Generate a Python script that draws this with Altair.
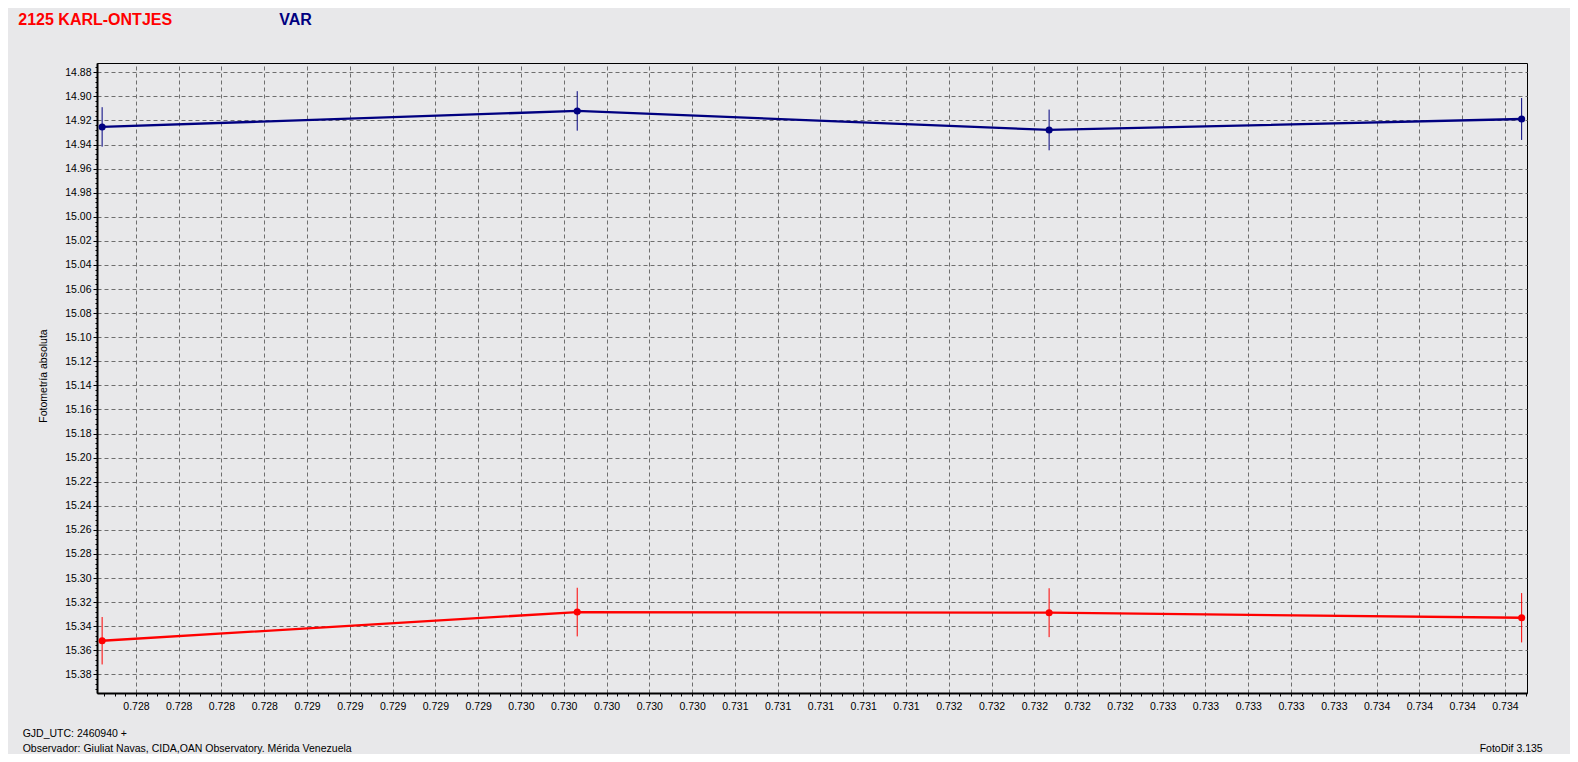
import altair as alt
import pandas as pd

# ---------------- data ----------------
jd_frac = [0.727542, 0.729763, 0.731969, 0.734178]          # GJD_UTC - 2460940
var_mag = [14.9254, 14.9121, 14.9279, 14.9188]
var_err = [0.0164, 0.0164, 0.0169, 0.0174]
obj_mag = [15.3521, 15.3283, 15.3288, 15.3330]
obj_err = [0.0197, 0.0202, 0.0203, 0.0205]

series_names = ["VAR", "2125 KARL-ONTJES"]
series_colors = ["#000080", "#FF0000"]

title_obj = "2125 KARL-ONTJES"
title_var = "VAR"
y_title = "Fotometría absoluta"
footer_jd = "GJD_UTC: 2460940 +"
footer_obs = "Observador: Giuliat Navas, CIDA,OAN Observatory. Mérida Venezuela"
footer_sw = "FotoDif 3.135"

x_domain = [0.727518, 0.734203]
y_domain = [14.8723, 15.3955]

# axis tick positions (major every 0.0002 / 0.02, minor subdivisions)
x_ticks = [round(0.72755 + 0.00005 * k, 6) for k in range(134)]
y_ticks = [round(14.876 + 0.004 * k, 4) for k in range(130)]

rows = []
for name, mags, errs in [(series_names[0], var_mag, var_err), (series_names[1], obj_mag, obj_err)]:
    for x, m, e in zip(jd_frac, mags, errs):
        rows.append({"series": name, "jd": x, "mag": m, "lo": m - e, "hi": m + e})
df = pd.DataFrame(rows)

x_major_test = "abs((datum.value - 0.7277) / 0.0002 - round((datum.value - 0.7277) / 0.0002)) < 0.05"
y_major_test = "abs((datum.value - 14.88) / 0.02 - round((datum.value - 14.88) / 0.02)) < 0.05"

FONT = "Liberation Sans"

x_axis = alt.Axis(
    values=x_ticks,
    tickCount=1000,
    title=None,
    labelExpr=f"({x_major_test}) ? format(datum.value + 1e-7, '.3f') : ''",
    labelOverlap=False,
    labelFlush=False,
    labelBound=False,
    labelFont=FONT, labelFontSize=10.5, labelColor="black", labelPadding=5,
    tickSize=3,
    tickColor="black", tickWidth=1,
    domainColor="black", domainWidth=2,
    grid=True, gridColor="#6E6E6E", gridDash=[4, 3], gridWidth=1,
    gridOpacity={"condition": {"test": x_major_test, "value": 1}, "value": 0},
)
y_axis = alt.Axis(
    values=y_ticks,
    tickCount=1000,
    title=None,
    labelExpr=f"({y_major_test}) ? format(datum.value, '.2f') : ''",
    labelOverlap=False,
    labelFlush=False,
    labelFont=FONT, labelFontSize=10.5, labelColor="black", labelPadding=2,
    tickSize={"condition": {"test": y_major_test, "value": 4}, "value": 2},
    tickColor="black", tickWidth=1,
    domainColor="black", domainWidth=2,
    grid=True, gridColor="#6E6E6E", gridDash=[4, 3], gridWidth=1,
    gridOpacity={"condition": {"test": y_major_test, "value": 1}, "value": 0},
)

X = alt.X("jd:Q", scale=alt.Scale(domain=x_domain, nice=False, zero=False), axis=x_axis)
Y = alt.Y("mag:Q", scale=alt.Scale(domain=y_domain, nice=False, zero=False, reverse=True), axis=y_axis)
color = alt.Color("series:N", scale=alt.Scale(domain=series_names, range=series_colors), legend=None)

base = alt.Chart(df)
lines = base.mark_line(strokeWidth=2.3, clip=True).encode(x=X, y=Y, color=color, detail="series:N")
bars = base.mark_rule(strokeWidth=1).encode(x="jd:Q", y="lo:Q", y2="hi:Q", color=color)
pts = base.mark_point(filled=True, shape="circle", size=50, opacity=1).encode(x="jd:Q", y="mag:Q", color=color)


def label(txt, x, y, size, color, weight="normal", align="left", angle=0, baseline="alphabetic"):
    return alt.Chart(pd.DataFrame({"t": [txt]})).mark_text(
        font=FONT, fontSize=size, fontWeight=weight, color=color, align=align,
        baseline=baseline, angle=angle,
    ).encode(text="t:N", x=alt.value(x), y=alt.value(y))


texts = [
    label(title_obj, -78.7, -38, 16, "#FF0000", weight="bold"),
    label(title_var, 182.3, -38, 16, "#000080", weight="bold"),
    label(y_title, -52.7, 313, 10.5, "black", align="center", angle=270, baseline="middle"),
    label(footer_jd, -74.3, 674, 10.5, "black"),
    label(footer_obs, -74.3, 688.5, 10.5, "black"),
    label(footer_sw, 1445.7, 688.5, 10.5, "black", align="right"),
]

chart = alt.layer(lines, bars, pts, *texts).properties(
    width=1430,
    height=630,
    autosize=alt.AutoSizeParams(type="none"),
    padding={"left": 89, "top": 55, "right": 43, "bottom": 61},
    background="#E8E8EA",
).configure_view(stroke="black", strokeWidth=1, fill="#E8E8EA")

chart.save("out.html", embed_options={"renderer": "svg", "actions": False})
